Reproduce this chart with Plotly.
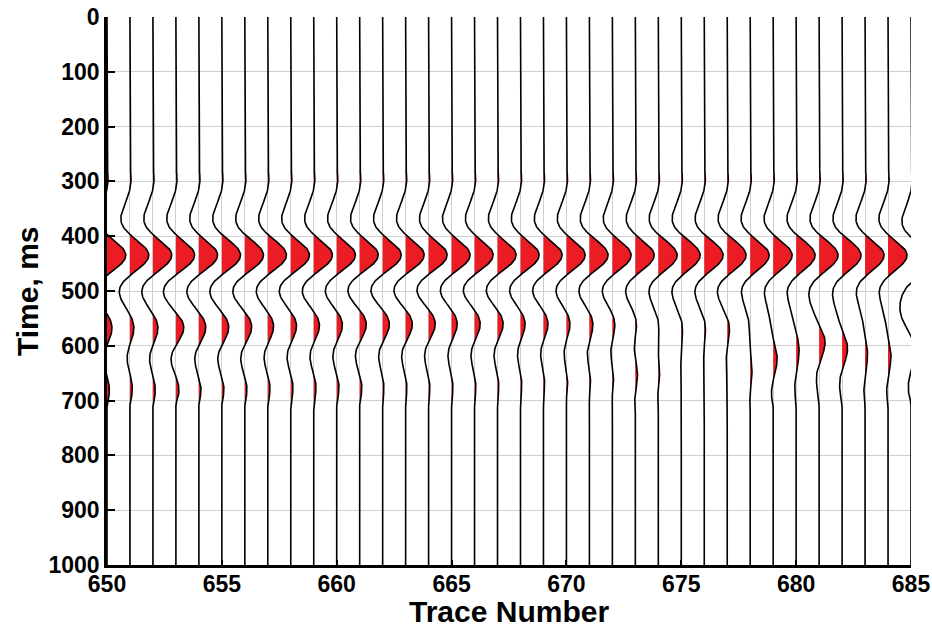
import numpy as np
import plotly.graph_objects as go

# Trace numbers along the section
traces = list(range(650, 686))

# Reflector picks per trace: two-way time (ms) and amplitude (px at 23 px per trace)
r0_time = [300] * 36
r0_amp = [1.5] * 36

r1_time = [435] * 35 + [440]
r1_amp = [19] * 36

r2_time = [566, 566, 566, 566, 565, 565, 564, 563, 562, 561, 560, 559,
           558, 558, 557, 557, 557, 557, 557, 557, 557, 558, 558, 559,
           561, 563, 563, 565, 568, 566, 566, 566, 566, 566, 566, 545]
r2_amp = [6, 5, 6, 9, 8, 8, 8, 7, 7, 7, 7, 8,
          8, 8, 8, 7, 7, 7, 6, 6, 5, 5, 4, 3,
          2, 2, 2, 3, 0.5, 0, 0, 0, 0, 0, 0, -7]

r3_time = [675, 673, 675, 675, 673, 672, 672, 671, 670, 670, 670, 669,
           668, 668, 668, 668, 667, 665, 663, 660, 658, 655, 652, 648,
           643, 645, 645, 645, 645, 624, 609, 594, 605, 615, 618, 672]
r3_amp = [3, 3, 3, 4, 3, 3, 3, 3, 3, 3, 3, 3,
          2, 2, 2, 2, 2, 2, 2, 2, 2, 2, 2, 3,
          2, 0.5, 0.5, 0.5, 2, 4, 3, 6, 5.5, 2.5, 3, -3]

# Mute windows (ms): data tapered to zero outside the live window
mute_top = (272, 292)
mute_bottom = (688, 712)

PX_PER_TRACE = 22.97
FREQ = 5.8  # Hz, wavelet peak frequency
t = np.arange(0, 1001, 2.0)


def ricker(tau_ms, f=FREQ):
    a = (np.pi * f * tau_ms / 1000.0) ** 2
    return (1 - 2 * a) * np.exp(-a)


def ramp(x, a, b):
    u = np.clip((x - a) / (b - a), 0, 1)
    return 0.5 - 0.5 * np.cos(np.pi * u)


taper = ramp(t, *mute_top) * (1 - ramp(t, *mute_bottom))


def positive_lobes(base, s, t, eps=0.004):
    """Closed polygons (separated by None) for each positive lobe of a trace."""
    xs, ys = [], []
    on = s > eps
    i = 0
    n = len(s)
    while i < n:
        if on[i]:
            j = i
            while j + 1 < n and on[j + 1]:
                j += 1
            y0 = t[max(i - 1, 0)]
            y1 = t[min(j + 1, n - 1)]
            xs += [base] + list(base + s[i:j + 1]) + [base, base, None]
            ys += [y0] + list(t[i:j + 1]) + [y1, y0, None]
            i = j + 1
        else:
            i += 1
    return xs, ys


fig = go.Figure()

for i, tr in enumerate(traces):
    s = np.zeros_like(t)
    for times, amps in ((r0_time, r0_amp), (r1_time, r1_amp),
                        (r2_time, r2_amp), (r3_time, r3_amp)):
        s += amps[i] / PX_PER_TRACE * ricker(t - times[i])
    s *= taper
    s[np.abs(s) < 0.002] = 0.0
    fx, fy = positive_lobes(tr, s, t)
    if fx:
        fig.add_trace(go.Scatter(
            x=fx, y=fy, mode="lines", fill="toself",
            fillcolor="rgb(236,28,36)", line=dict(width=0),
            hoverinfo="skip", showlegend=False))
    fig.add_trace(go.Scatter(
        x=tr + s, y=t, mode="lines",
        line=dict(color="black", width=1.6),
        hoverinfo="skip", showlegend=False))

tick_font = dict(family="Liberation Sans", size=23, color="black", weight="bold")
title_font = dict(family="Liberation Sans", size=30, color="black", weight="bold")

fig.update_layout(
    width=932, height=628,
    margin=dict(l=107, r=21, t=17, b=63),
    paper_bgcolor="white", plot_bgcolor="white",
    xaxis=dict(
        range=[650, 685], tickvals=list(range(650, 686, 5)),
        ticks="inside", ticklen=5, tickwidth=2, tickcolor="black",
        showline=True, linecolor="black", linewidth=2.5,
        showgrid=False, zeroline=False, automargin=False,
        minor=dict(dtick=1, showgrid=True, gridcolor="#cfcfcf", gridwidth=1),
        tickfont=tick_font, ticklabelstandoff=-3,
    ),
    yaxis=dict(
        range=[1000, 0], dtick=100,
        ticks="inside", ticklen=8, tickwidth=2, tickcolor="black",
        showline=True, linecolor="black", linewidth=2.5,
        showgrid=True, gridcolor="#cfcfcf", gridwidth=1, zeroline=False,
        automargin=False,
        tickfont=tick_font,
    ),
    annotations=[
        dict(text="Trace Number", xref="paper", yref="paper", x=0.5, y=0,
             xanchor="center", yanchor="middle", yshift=-46.5, borderpad=0,
             showarrow=False, font=title_font),
        dict(text="Time, ms", xref="paper", yref="paper", x=0, y=0.5,
             xanchor="center", yanchor="middle", xshift=-80, textangle=-90,
             borderpad=0, showarrow=False, font=title_font),
    ],
)

fig.write_html("out.html")
